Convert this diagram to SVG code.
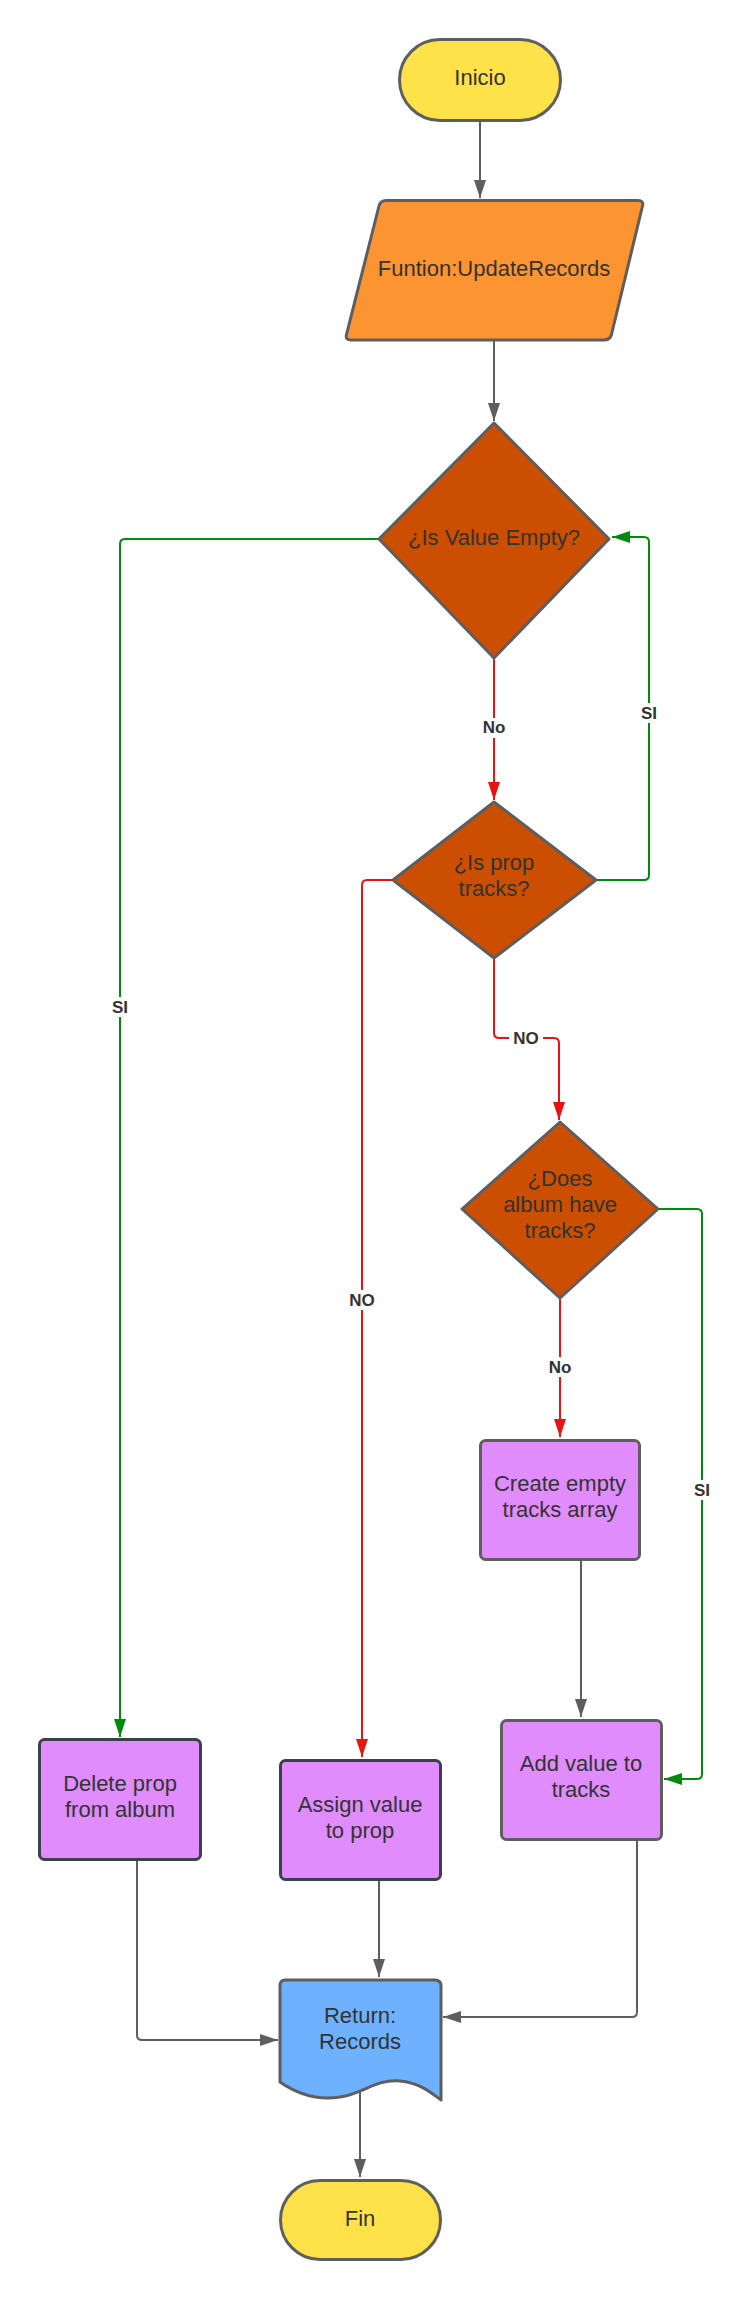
<svg xmlns="http://www.w3.org/2000/svg" width="751" height="2300" viewBox="0 0 751 2300">
<defs>
<style>
.t{font-family:"Liberation Sans",Arial,sans-serif;font-size:22px;fill:#333333;text-anchor:middle}
.lb{font-family:"Liberation Sans",Arial,sans-serif;font-size:17px;font-weight:bold;fill:#333333;text-anchor:middle}
.sh{stroke:#5e5e5e;stroke-width:3;stroke-linejoin:round}
.dk{stroke:#3a414a;stroke-width:3;stroke-linejoin:round}
.c{fill:none;stroke-width:2;stroke-linejoin:round}
.g{stroke:#5e5e5e}
.r{stroke:#e81313}
.gr{stroke:#008a0e}
.bg{fill:#ffffff}
</style>
<marker id="ag" viewBox="0 0 18 12" refX="18" refY="6" markerWidth="18" markerHeight="12" markerUnits="userSpaceOnUse" orient="auto"><path d="M0,0 L18,6 L0,12 Z" fill="#5e5e5e"/></marker>
<marker id="ar" viewBox="0 0 18 12" refX="18" refY="6" markerWidth="18" markerHeight="12" markerUnits="userSpaceOnUse" orient="auto"><path d="M0,0 L18,6 L0,12 Z" fill="#e81313"/></marker>
<marker id="agr" viewBox="0 0 18 12" refX="18" refY="6" markerWidth="18" markerHeight="12" markerUnits="userSpaceOnUse" orient="auto"><path d="M0,0 L18,6 L0,12 Z" fill="#008a0e"/></marker>
</defs>
<rect width="751" height="2300" fill="#ffffff"/>

<g id="connectors">
<path class="c g" d="M480,120 V198" marker-end="url(#ag)"/>
<path class="c g" d="M494,340 V421" marker-end="url(#ag)"/>
<path class="c gr" d="M379,539 H125 Q120,539 120,544 V1737" marker-end="url(#agr)"/>
<path class="c r" d="M494,658 V800" marker-end="url(#ar)"/>
<path class="c gr" d="M596,880 H644 Q649,880 649,875 V542 Q649,537 644,537 H612" marker-end="url(#agr)"/>
<path class="c r" d="M393,880 H367 Q362,880 362,885 V1757" marker-end="url(#ar)"/>
<path class="c r" d="M494,958 V1033 Q494,1038 499,1038 H554 Q559,1038 559,1043 V1120" marker-end="url(#ar)"/>
<path class="c gr" d="M658,1209 H697 Q702,1209 702,1214 V1774 Q702,1779 697,1779 H664" marker-end="url(#agr)"/>
<path class="c r" d="M560,1298 V1437" marker-end="url(#ar)"/>
<path class="c g" d="M581,1560 V1717" marker-end="url(#ag)"/>
<path class="c g" d="M137,1860 V2035 Q137,2040 142,2040 H278" marker-end="url(#ag)"/>
<path class="c g" d="M379,1880 V1977" marker-end="url(#ag)"/>
<path class="c g" d="M637,1840 V2012 Q637,2017 632,2017 H443" marker-end="url(#ag)"/>
<path class="c g" d="M360,2092 V2177" marker-end="url(#ag)"/>
<rect class="bg" x="481" y="718" width="26" height="20"/>
<text class="lb" x="494" y="733">No</text>
<rect class="bg" x="638" y="703" width="22" height="20"/>
<text class="lb" x="649" y="719">SI</text>
<rect class="bg" x="109" y="997" width="22" height="20"/>
<text class="lb" x="120" y="1013">SI</text>
<rect class="bg" x="346" y="1290" width="32" height="20"/>
<text class="lb" x="362" y="1306">NO</text>
<rect class="bg" x="509" y="1028" width="34" height="20"/>
<text class="lb" x="526" y="1044">NO</text>
<rect class="bg" x="547" y="1357" width="26" height="20"/>
<text class="lb" x="560" y="1373">No</text>
<rect class="bg" x="691" y="1480" width="22" height="20"/>
<text class="lb" x="702" y="1496">SI</text>
</g>

<g id="inicio">
<rect class="sh" x="399.5" y="39.5" width="161" height="81" rx="40.5" fill="#ffe24a"/>
<text class="t" x="480" y="85">Inicio</text>
</g>

<g id="funtion">
<path class="sh" d="M386,200.5 H638 Q644,200.5 642.5,206 L611.5,334.5 Q610,340 604,340 H351 Q345,340 346.5,334.5 L379,206 Q380.5,200.5 386,200.5 Z" fill="#fc9432"/>
<text class="t" x="494" y="276">Funtion:UpdateRecords</text>
</g>

<g id="d-value-empty">
<path class="sh" d="M494,423 L609,539 L494,658 L379,539 Z" fill="#cc4e00"/>
<text class="t" x="494" y="545">¿Is Value Empty?</text>
</g>

<g id="d-prop-tracks">
<path class="sh" d="M494,802 L596,880 L494,958 L393,880 Z" fill="#cc4e00"/>
<text class="t" x="494" y="870">¿Is prop</text>
<text class="t" x="494" y="896">tracks?</text>
</g>

<g id="d-album-tracks">
<path class="sh" d="M560,1122 L658,1209 L560,1298 L462,1209 Z" fill="#cc4e00"/>
<text class="t" x="560" y="1186">¿Does</text>
<text class="t" x="560" y="1212">album have</text>
<text class="t" x="560" y="1238">tracks?</text>
</g>

<g id="create-empty">
<rect class="sh" x="480.5" y="1440.5" width="159" height="119" rx="5" fill="#e08cfc"/>
<text class="t" x="560" y="1491">Create empty</text>
<text class="t" x="560" y="1517">tracks array</text>
</g>

<g id="add-value">
<rect class="sh" x="501.5" y="1720.5" width="160" height="119" rx="5" fill="#e08cfc"/>
<text class="t" x="581" y="1771">Add value to</text>
<text class="t" x="581" y="1797">tracks</text>
</g>

<g id="delete-prop">
<rect class="dk" x="39.5" y="1739.5" width="161" height="120" rx="5" fill="#e08cfc"/>
<text class="t" x="120" y="1791">Delete prop</text>
<text class="t" x="120" y="1817">from album</text>
</g>

<g id="assign-value">
<rect class="dk" x="280.5" y="1760.5" width="160" height="119" rx="5" fill="#e08cfc"/>
<text class="t" x="360" y="1812">Assign value</text>
<text class="t" x="360" y="1838">to prop</text>
</g>

<g id="return-records">
<path class="sh" d="M285,1980 H435 Q441,1980 441,1986 V2100 C430,2092 420,2083 400,2081 C375,2079 365,2093 340,2097 C320,2100 300,2096 280,2082 V1986 Q280,1980 285,1980 Z" fill="#6db1ff"/>
<text class="t" x="360" y="2023">Return:</text>
<text class="t" x="360" y="2049">Records</text>
</g>

<g id="fin">
<rect class="sh" x="280.5" y="2180.5" width="160" height="79" rx="39.5" fill="#ffe24a"/>
<text class="t" x="360" y="2226">Fin</text>
</g>
</svg>
